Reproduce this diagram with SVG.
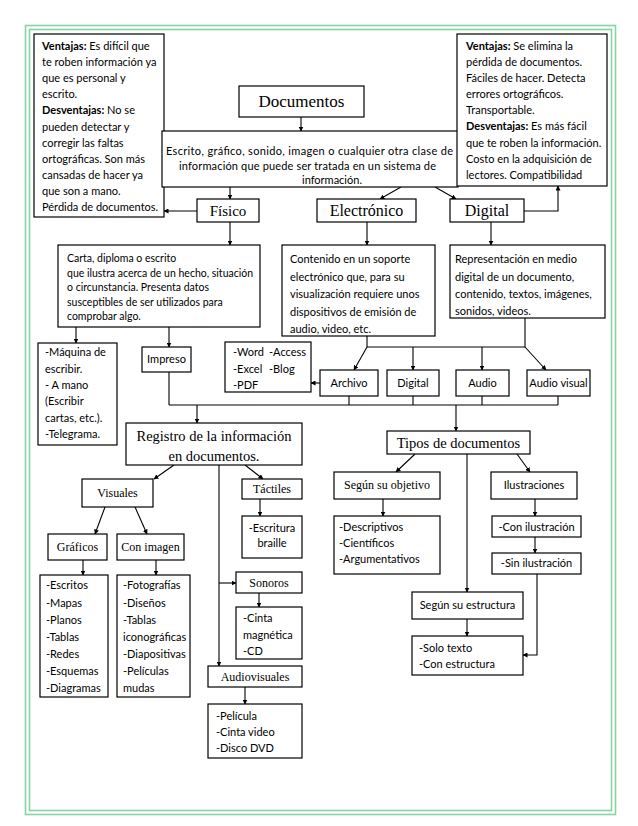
<svg xmlns="http://www.w3.org/2000/svg" width="638" height="826" viewBox="0 0 638 826">
<style>
.b{fill:#fff;stroke:#000;stroke-width:1.2}
.t{font-family:Lato,Carlito,"Liberation Sans",sans-serif;font-size:11px;fill:#000}
.sm{font-size:10.5px}
.s{font-family:"Liberation Serif","Times New Roman",serif;fill:#000}
.c{text-anchor:middle}
.k{font-weight:bold}
.ln{fill:none;stroke:#000;stroke-width:1.1}
.ar{fill:none;stroke:#000;stroke-width:1.1;marker-end:url(#a)}
.bd{fill:none;stroke:#86d3a3;stroke-width:1.6}
</style>
<defs>
<marker id="a" markerWidth="5" markerHeight="5" refX="4.5" refY="2.5" orient="auto" markerUnits="userSpaceOnUse"><path d="M0,0 L5,2.5 L0,5 z" fill="#000"/></marker>
</defs>
<rect width="638" height="826" fill="#fff"/>
<rect class="bd" x="25.5" y="25.5" width="590" height="789"/>
<rect class="bd" x="29.5" y="29.5" width="582" height="781"/>

<g id="connectors">
<path class="ar" d="M301,117 V131"/>
<path class="ar" d="M230,187 V199"/>
<path class="ar" d="M401,187 L380,199"/>
<path class="ar" d="M435,187 L456,199"/>
<path class="ar" d="M197,211 H164"/>
<path class="ar" d="M524,211 H558 V186"/>
<path class="ar" d="M230,222 V245"/>
<path class="ar" d="M367,222 V245"/>
<path class="ar" d="M491,222 V245"/>
<path class="ar" d="M76,327 V343"/>
<path class="ar" d="M169,327 V347"/>
<path class="ln" d="M367,336 V347 M525,318 V347 M367,347 H525"/>
<path class="ar" d="M367,347 L354,370"/>
<path class="ar" d="M413,347 V370"/>
<path class="ar" d="M482,347 V370"/>
<path class="ar" d="M525,347 L546,370"/>
<path class="ar" d="M320,383 H311"/>
<path class="ln" d="M169,372 V405 M349,396 V405 M413,396 V405 M482,396 V405 M558,396 V405 M169,405 H558"/>
<path class="ar" d="M197,405 V423"/>
<path class="ar" d="M456,405 V431"/>
<path class="ar" d="M174,465 L154,479"/>
<path class="ar" d="M245,465 L263,479"/>
<path class="ar" d="M219,465 V666"/>
<path class="ar" d="M219,583 H236"/>
<path class="ar" d="M260,499 V516"/>
<path class="ar" d="M105,507 L95,534"/>
<path class="ar" d="M135,507 L147,534"/>
<path class="ar" d="M83,560 V575"/>
<path class="ar" d="M156,560 V575"/>
<path class="ar" d="M259,593 V607"/>
<path class="ar" d="M245,687 V704"/>
<path class="ar" d="M415,454 L396,472"/>
<path class="ar" d="M467,454 V592"/>
<path class="ar" d="M517,454 L530,472"/>
<path class="ar" d="M383,499 V516"/>
<path class="ar" d="M535,499 V516"/>
<path class="ar" d="M535,537 V553"/>
<path class="ar" d="M537,574 V655 H523"/>
<path class="ar" d="M467,619 V636"/>
</g>

<g id="n-ventajas-fisico">
<rect class="b" x="34" y="34" width="130" height="183"/>
<text class="t" x="42" y="50"><tspan class="k">Ventajas:</tspan> Es difícil que</text>
<text class="t" x="42" y="66">te roben información ya</text>
<text class="t" x="42" y="82">que es personal y</text>
<text class="t" x="42" y="98">escrito.</text>
<text class="t" x="42" y="114"><tspan class="k">Desventajas:</tspan> No se</text>
<text class="t" x="42" y="131">pueden detectar y</text>
<text class="t" x="42" y="147">corregir las faltas</text>
<text class="t" x="42" y="163">ortográficas. Son más</text>
<text class="t" x="42" y="179">cansadas de hacer ya</text>
<text class="t" x="42" y="195">que son a mano.</text>
<text class="t" x="42" y="211">Pérdida de documentos.</text>
</g>

<g id="n-documentos">
<rect class="b" x="239" y="86" width="125" height="31"/>
<text class="s c" x="301.5" y="107" font-size="17">Documentos</text>
</g>

<g id="n-descripcion">
<rect class="b" x="162" y="131" width="296" height="56"/>
<text class="t" x="166" y="155" font-size="11.5" textLength="287">Escrito, gráfico, sonido, imagen o cualquier otra clase de</text>
<text class="t" x="179" y="169.5" font-size="11.5" textLength="257">información que puede ser tratada en un sistema de</text>
<text class="t c" x="332" y="183.5" font-size="11.5">información.</text>
</g>

<g id="n-fisico">
<rect class="b" x="197" y="199" width="62" height="23"/>
<text class="s c" x="228" y="216" font-size="15">Físico</text>
</g>

<g id="n-electronico">
<rect class="b" x="317" y="199" width="99" height="23"/>
<text class="s c" x="366.5" y="216" font-size="16">Electrónico</text>
</g>

<g id="n-digital">
<rect class="b" x="450" y="199" width="74" height="23"/>
<text class="s c" x="487" y="216" font-size="16">Digital</text>
</g>

<g id="n-ventajas-digital">
<rect class="b" x="457" y="34" width="150" height="152"/>
<text class="t" x="466" y="50"><tspan class="k">Ventajas:</tspan> Se elimina la</text>
<text class="t" x="466" y="66">pérdida de documentos.</text>
<text class="t" x="466" y="82">Fáciles de hacer. Detecta</text>
<text class="t" x="466" y="98">errores ortográficos.</text>
<text class="t" x="466" y="114">Transportable.</text>
<text class="t" x="466" y="130"><tspan class="k">Desventajas:</tspan> Es más fácil</text>
<text class="t" x="466" y="147">que te roben la información.</text>
<text class="t" x="466" y="163">Costo en la adquisición de</text>
<text class="t" x="466" y="179">lectores. Compatibilidad</text>
</g>

<g id="n-carta">
<rect class="b" x="58" y="245" width="202" height="82"/>
<text class="t sm" x="67" y="262">Carta, diploma o escrito</text>
<text class="t sm" x="67" y="277">que ilustra acerca de un hecho, situación</text>
<text class="t sm" x="67" y="291">o circunstancia. Presenta datos</text>
<text class="t sm" x="67" y="306">susceptibles de ser utilizados para</text>
<text class="t sm" x="67" y="320">comprobar algo.</text>
</g>

<g id="n-contenido">
<rect class="b" x="282" y="245" width="153" height="91"/>
<text class="t" x="290" y="263">Contenido en un soporte</text>
<text class="t" x="290" y="281">electrónico que, para su</text>
<text class="t" x="290" y="298">visualización requiere unos</text>
<text class="t" x="290" y="316">dispositivos de emisión de</text>
<text class="t" x="290" y="333">audio, video, etc.</text>
</g>

<g id="n-representacion">
<rect class="b" x="450" y="245" width="155" height="73"/>
<text class="t" x="455" y="263">Representación en medio</text>
<text class="t" x="455" y="281">digital de un documento,</text>
<text class="t" x="455" y="298">contenido, textos, imágenes,</text>
<text class="t" x="455" y="315">sonidos, videos.</text>
</g>

<g id="n-maquina">
<rect class="b" x="38" y="343" width="79" height="102"/>
<text class="t" x="45" y="356">-Máquina de</text>
<text class="t" x="45" y="373">escribir.</text>
<text class="t" x="45" y="389">- A mano</text>
<text class="t" x="45" y="405">(Escribir</text>
<text class="t" x="45" y="422">cartas, etc.).</text>
<text class="t" x="45" y="438">-Telegrama.</text>
</g>

<g id="n-impreso">
<rect class="b" x="142" y="347" width="49" height="25"/>
<text class="t c" x="166.5" y="363">Impreso</text>
</g>

<g id="n-word">
<rect class="b" x="225" y="342" width="86" height="50"/>
<text class="t" x="233" y="356">-Word</text>
<text class="t" x="269" y="356">-Access</text>
<text class="t" x="233" y="373">-Excel</text>
<text class="t" x="269" y="373">-Blog</text>
<text class="t" x="233" y="389">-PDF</text>
</g>

<g id="n-archivo">
<rect class="b" x="320" y="370" width="58" height="26"/>
<text class="t c" x="349" y="387">Archivo</text>
</g>

<g id="n-digital-2">
<rect class="b" x="387" y="370" width="52" height="26"/>
<text class="t c" x="413" y="387">Digital</text>
</g>

<g id="n-audio">
<rect class="b" x="456" y="370" width="53" height="26"/>
<text class="t c" x="482.5" y="387">Audio</text>
</g>

<g id="n-audiovisual">
<rect class="b" x="527" y="370" width="63" height="26"/>
<text class="t c" x="558.5" y="387">Audio visual</text>
</g>

<g id="n-registro">
<rect class="b" x="126" y="423" width="176" height="42"/>
<text class="s c" x="214" y="441" font-size="14.5">Registro de la información</text>
<text class="s c" x="214" y="461" font-size="14.5">en documentos.</text>
</g>

<g id="n-tipos">
<rect class="b" x="387" y="431" width="143" height="23"/>
<text class="s c" x="458.5" y="448" font-size="14.5">Tipos de documentos</text>
</g>

<g id="n-visuales">
<rect class="b" x="82" y="479" width="71" height="28"/>
<text class="s c" x="117.5" y="497" font-size="12">Visuales</text>
</g>

<g id="n-tactiles">
<rect class="b" x="242" y="479" width="60" height="20"/>
<text class="s c" x="272" y="493" font-size="12">Táctiles</text>
</g>

<g id="n-escritura">
<rect class="b" x="242" y="516" width="60" height="42"/>
<text class="t c" x="272" y="532">-Escritura</text>
<text class="t c" x="272" y="547">braille</text>
</g>

<g id="n-graficos">
<rect class="b" x="48" y="534" width="59" height="26"/>
<text class="s c" x="77.5" y="551" font-size="12">Gráficos</text>
</g>

<g id="n-con-imagen">
<rect class="b" x="117" y="534" width="67" height="26"/>
<text class="s c" x="150.5" y="551" font-size="12">Con imagen</text>
</g>

<g id="n-escritos">
<rect class="b" x="40" y="575" width="68" height="122"/>
<text class="t" x="46" y="589">-Escritos</text>
<text class="t" x="46" y="606.5">-Mapas</text>
<text class="t" x="46" y="623.5">-Planos</text>
<text class="t" x="46" y="640.5">-Tablas</text>
<text class="t" x="46" y="657.5">-Redes</text>
<text class="t" x="46" y="674.5">-Esquemas</text>
<text class="t" x="46" y="691.5">-Diagramas</text>
</g>

<g id="n-fotografias">
<rect class="b" x="117" y="575" width="73" height="122"/>
<text class="t" x="123" y="589">-Fotografías</text>
<text class="t" x="123" y="606.5">-Diseños</text>
<text class="t" x="123" y="623.5">-Tablas</text>
<text class="t" x="123" y="640.5">iconográficas</text>
<text class="t" x="123" y="657.5">-Diapositivas</text>
<text class="t" x="123" y="674.5">-Películas</text>
<text class="t" x="123" y="691.5">mudas</text>
</g>

<g id="n-sonoros">
<rect class="b" x="236" y="572" width="66" height="21"/>
<text class="s c" x="269" y="587" font-size="12">Sonoros</text>
</g>

<g id="n-cinta">
<rect class="b" x="236" y="607" width="66" height="52"/>
<text class="t" x="243" y="622">-Cinta</text>
<text class="t" x="243" y="639">magnética</text>
<text class="t" x="243" y="655">-CD</text>
</g>

<g id="n-audiovisuales">
<rect class="b" x="208" y="666" width="94" height="21"/>
<text class="s c" x="255" y="681" font-size="12">Audiovisuales</text>
</g>

<g id="n-pelicula">
<rect class="b" x="208" y="704" width="94" height="54"/>
<text class="t" x="216" y="720">-Película</text>
<text class="t" x="216" y="736">-Cinta video</text>
<text class="t" x="216" y="752">-Disco DVD</text>
</g>

<g id="n-segun-objetivo">
<rect class="b" x="334" y="472" width="106" height="27"/>
<text class="s c" x="387" y="489" font-size="12">Según su objetivo</text>
</g>

<g id="n-ilustraciones">
<rect class="b" x="491" y="472" width="86" height="27"/>
<text class="t c" x="534" y="489">Ilustraciones</text>
</g>

<g id="n-descriptivos">
<rect class="b" x="334" y="516" width="106" height="58"/>
<text class="t" x="339" y="531">-Descriptivos</text>
<text class="t" x="339" y="547">-Científicos</text>
<text class="t" x="339" y="563">-Argumentativos</text>
</g>

<g id="n-con-ilustracion">
<rect class="b" x="492" y="516" width="89" height="21"/>
<text class="t c" x="536.5" y="531">-Con ilustración</text>
</g>

<g id="n-sin-ilustracion">
<rect class="b" x="492" y="553" width="89" height="21"/>
<text class="t c" x="536.5" y="567">-Sin ilustración</text>
</g>

<g id="n-segun-estructura">
<rect class="b" x="412" y="592" width="111" height="27"/>
<text class="t c" x="467.5" y="609">Según su estructura</text>
</g>

<g id="n-solo-texto">
<rect class="b" x="412" y="636" width="111" height="39"/>
<text class="t" x="419" y="652">-Solo texto</text>
<text class="t" x="419" y="668">-Con estructura</text>
</g>
</svg>
